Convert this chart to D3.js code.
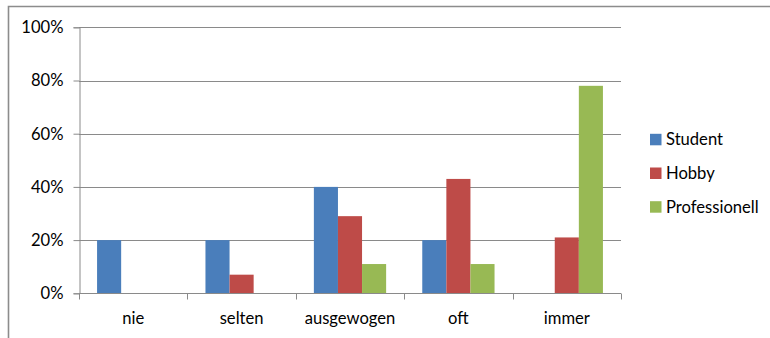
<!DOCTYPE html>
<html>
<head>
<meta charset="utf-8">
<script src="https://cdn.jsdelivr.net/npm/d3@7"></script>
<style>
  html, body { margin: 0; padding: 0; background: #fff; }
  svg { display: block; }
  text { font-family: Lato, "Open Sans", sans-serif; fill: #000; }
</style>
</head>
<body>
<svg id="chart" width="770" height="338"></svg>
<script>
// Frequency categories along the x axis
const categories = ["nie", "selten", "ausgewogen", "oft", "immer"];
// Respondent groups
const seriesNames = ["Student", "Hobby", "Professionell"];
// Share per category (percent)
const student = [20, 20, 40, 20, 0];
const hobby = [0, 7, 29, 43, 21];
const professionell = [0, 0, 11, 11, 78];
const yTicks = [0, 20, 40, 60, 80, 100];
const colors = ["#4A7EBB", "#BE4B48", "#98B954"];

const seriesValues = [student, hobby, professionell];
const FONT = "16.6px";

const svg = d3.select("#chart");
const W = 770, H = 338;
const plot = { left: 79, right: 621, top: 27.3, bottom: 293.3 };

// Outer chart frame (runs off the right and bottom edges)
svg.append("path")
  .attr("d", `M8.5,${H + 2} L8.5,6.5 L${W + 2},6.5`)
  .attr("fill", "none")
  .attr("stroke", "#8c8c8c")
  .attr("stroke-width", 1.6);

const x = d3.scaleBand()
  .domain(categories)
  .range([plot.left, plot.right])
  .paddingInner(0)
  .paddingOuter(0);

// Excel-style gap width of 150%: three bars fill 3 / 4.5 of each band
const barW = x.bandwidth() / 4.5;
const xInner = d3.scaleBand()
  .domain(seriesNames)
  .range([barW * 0.75, barW * 3.75]);

const y = d3.scaleLinear()
  .domain([0, 100])
  .range([plot.bottom, plot.top]);

// Horizontal gridlines
svg.append("g")
  .selectAll("line")
  .data(yTicks.filter(d => d > 0))
  .join("line")
  .attr("x1", plot.left)
  .attr("x2", plot.right)
  .attr("y1", d => Math.round(y(d)) + 0.5)
  .attr("y2", d => Math.round(y(d)) + 0.5)
  .attr("stroke", "#8a8a8a")
  .attr("stroke-width", 1);

// Bars
const groups = svg.append("g")
  .selectAll("g")
  .data(seriesNames)
  .join("g")
  .attr("fill", (d, i) => colors[i]);

groups.selectAll("rect")
  .data((s, si) => categories.map((c, ci) => ({ c, s, v: seriesValues[si][ci] })))
  .join("rect")
  .filter(d => d.v > 0)
  .attr("x", d => x(d.c) + xInner(d.s))
  .attr("width", xInner.bandwidth())
  .attr("y", d => y(d.v))
  .attr("height", d => y(0) - y(d.v));

// Y axis
const yAxis = d3.axisLeft(y)
  .tickValues(yTicks)
  .tickFormat(d => d + "%")
  .tickSize(6)
  .tickPadding(10);
const gy = svg.append("g")
  .attr("transform", `translate(${plot.left + 0.5},0)`)
  .call(yAxis);
gy.select(".domain").attr("stroke", "#8a8a8a");
gy.selectAll(".tick line").attr("stroke", "#8a8a8a");
gy.selectAll(".tick text")
  .style("font-size", FONT)
  .style("font-family", "Lato, 'Open Sans', sans-serif")
  .attr("fill", "#000");

// X axis with ticks at band boundaries
const gx = svg.append("g")
  .attr("transform", `translate(0,${Math.round(plot.bottom) + 0.5})`);
gx.append("line")
  .attr("x1", plot.left)
  .attr("x2", plot.right)
  .attr("stroke", "#8a8a8a");
const bounds = categories.map(c => x(c)).concat([plot.right]);
gx.selectAll("line.tick")
  .data(bounds)
  .join("line")
  .attr("class", "tick")
  .attr("x1", d => Math.round(d) + 0.5)
  .attr("x2", d => Math.round(d) + 0.5)
  .attr("y1", 0)
  .attr("y2", 6)
  .attr("stroke", "#8a8a8a");
gx.selectAll("text")
  .data(categories)
  .join("text")
  .attr("x", d => x(d) + x.bandwidth() / 2)
  .attr("y", 30)
  .attr("text-anchor", "middle")
  .style("font-size", FONT)
  .text(d => d);

// Legend
const legend = svg.append("g")
  .selectAll("g")
  .data(seriesNames)
  .join("g")
  .attr("transform", (d, i) => `translate(650,${139.3 + i * 33.7})`);
legend.append("rect")
  .attr("x", 0)
  .attr("y", -5.5)
  .attr("width", 11.5)
  .attr("height", 11.5)
  .attr("fill", (d, i) => colors[i]);
legend.append("text")
  .attr("x", 16)
  .attr("y", 0)
  .attr("dy", "0.35em")
  .style("font-size", FONT)
  .text(d => d);
</script>
</body>
</html>
